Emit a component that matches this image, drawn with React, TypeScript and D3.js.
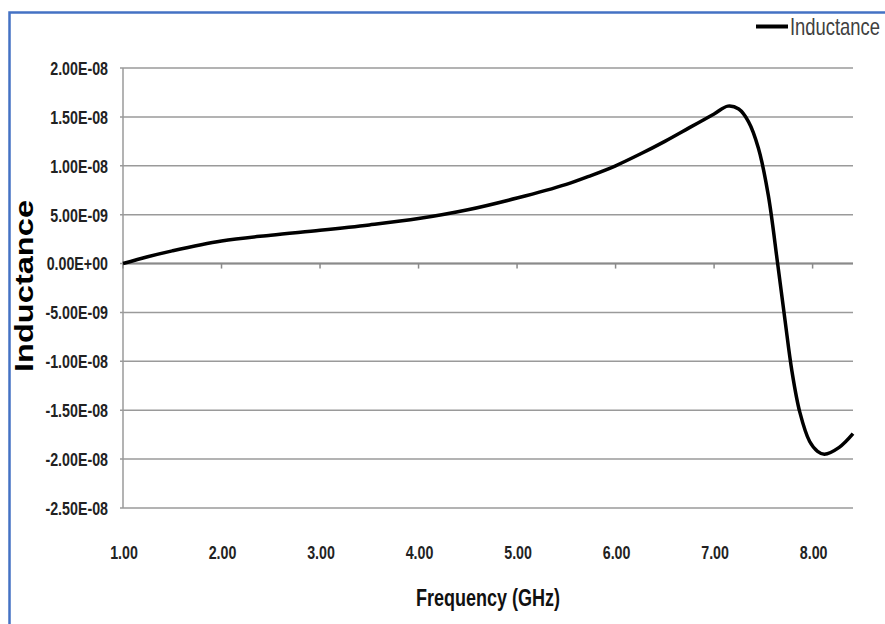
import React from "react";
import * as d3 from "d3";

// Frequency (GHz) and inductance (H)
const freq = [
  1.0, 1.25, 1.5, 2.0, 2.5, 3.0, 3.5, 4.0, 4.5, 5.0, 5.5, 5.75, 6.0, 6.25, 6.5,
  6.75, 7.0, 7.14, 7.25, 7.35, 7.45, 7.55, 7.645, 7.72, 7.79, 7.87, 7.97, 8.05,
  8.12, 8.27, 8.41,
];
const inductance = [
  0.0, 0.7e-9, 1.3e-9, 2.3e-9, 2.9e-9, 3.4e-9, 3.95e-9, 4.6e-9, 5.5e-9, 6.7e-9,
  8.1e-9, 9.0e-9, 1.0e-8, 1.12e-8, 1.25e-8, 1.39e-8, 1.53e-8, 1.61e-8, 1.58e-8,
  1.45e-8, 1.18e-8, 0.7e-8, 0.0, -0.58e-8, -1.1e-8, -1.52e-8, -1.82e-8,
  -1.92e-8, -1.95e-8, -1.88e-8, -1.74e-8,
];

const xTicks = [1, 2, 3, 4, 5, 6, 7, 8];
const yTicks = [2e-8, 1.5e-8, 1e-8, 5e-9, 0, -5e-9, -1e-8, -1.5e-8, -2e-8, -2.5e-8];

const seriesName = "Inductance";
const xTitle = "Frequency (GHz)";
const yTitle = "Inductance";

const W = 885;
const H = 624;
const margin = { top: 68, right: 32, bottom: 116, left: 123 };

// Excel style 2.00E-08
const fmtExp = (v: number) => {
  const [m, e] = v.toExponential(2).toUpperCase().split("E");
  const sign = e.startsWith("-") ? "-" : "+";
  const digits = e.replace(/[+-]/, "").padStart(2, "0");
  return `${m}E${sign}${digits}`;
};

const sans = "'Liberation Sans', Arial, sans-serif";
const squeeze = 0.75; // fake a condensed face

export default function App() {
  const x = d3
    .scaleLinear()
    .domain([1, 8.41])
    .range([margin.left, W - margin.right]);
  const y = d3
    .scaleLinear()
    .domain([-2.5e-8, 2e-8])
    .range([H - margin.bottom, margin.top]);

  const pts = freq.map((f, i) => [f, inductance[i]] as [number, number]);
  const line = d3
    .line<[number, number]>()
    .x((d) => x(d[0]))
    .y((d) => y(d[1]))
    .curve(d3.curveCatmullRom.alpha(0.5));

  const x0 = x.range()[0];
  const x1 = x.range()[1];

  return (
    <svg
      width={W}
      height={H}
      style={{ position: "absolute", left: 0, top: 0, background: "#fff" }}
    >
      {/* frame */}
      <rect x={9.5} y={12.5} width={W + 10} height={H + 10} fill="none" stroke="#4472c4" strokeWidth={2.5} />

      {/* gridlines */}
      {yTicks.map((t) => (
        <g key={t}>
          <line x1={x0 - 3} x2={x1} y1={y(t)} y2={y(t)} stroke="#9a9a9a" strokeWidth={1.5} />
          <text
            transform={`translate(108,${y(t)}) scale(${squeeze},1)`}
            dy="0.36em"
            textAnchor="end"
            fontFamily={sans}
            fontWeight="bold"
            fontSize={19}
            fill="#222"
          >
            {fmtExp(t)}
          </text>
        </g>
      ))}

      {/* y axis */}
      <line x1={x0} x2={x0} y1={y(2e-8)} y2={y(-2.5e-8)} stroke="#9a9a9a" strokeWidth={1.5} />

      {/* x axis at zero */}
      <line x1={x0} x2={x1} y1={y(0)} y2={y(0)} stroke="#8a8a8a" strokeWidth={2} />
      {xTicks.map((t) => (
        <g key={t}>
          <line x1={x(t)} x2={x(t)} y1={y(0)} y2={y(0) + 5} stroke="#8a8a8a" strokeWidth={1.5} />
          <text
            transform={`translate(${x(t) + 1},559) scale(${squeeze},1)`}
            textAnchor="middle"
            fontFamily={sans}
            fontWeight="bold"
            fontSize={19}
            fill="#222"
          >
            {t.toFixed(2)}
          </text>
        </g>
      ))}

      {/* series */}
      <path d={line(pts) ?? ""} fill="none" stroke="#000" strokeWidth={3.5} strokeLinejoin="round" />

      {/* axis titles */}
      <text
        transform={`translate(488,606) scale(${squeeze},1)`}
        textAnchor="middle"
        fontFamily={sans}
        fontWeight="bold"
        fontSize={24}
        fill="#111"
      >
        {xTitle}
      </text>
      <text
        transform={`translate(33,286) rotate(-90)`}
        textAnchor="middle"
        fontFamily={sans}
        fontWeight="bold"
        fontSize={26}
        textLength={172}
        lengthAdjust="spacingAndGlyphs"
        fill="#000"
      >
        {yTitle}
      </text>

      {/* legend */}
      <line x1={756} x2={788} y1={26.5} y2={26.5} stroke="#000" strokeWidth={4} />
      <text
        transform={`translate(790,35) scale(${squeeze + 0.05},1)`}
        fontFamily={sans}
        fontSize={23}
        fill="#404040"
      >
        {seriesName}
      </text>
    </svg>
  );
}
